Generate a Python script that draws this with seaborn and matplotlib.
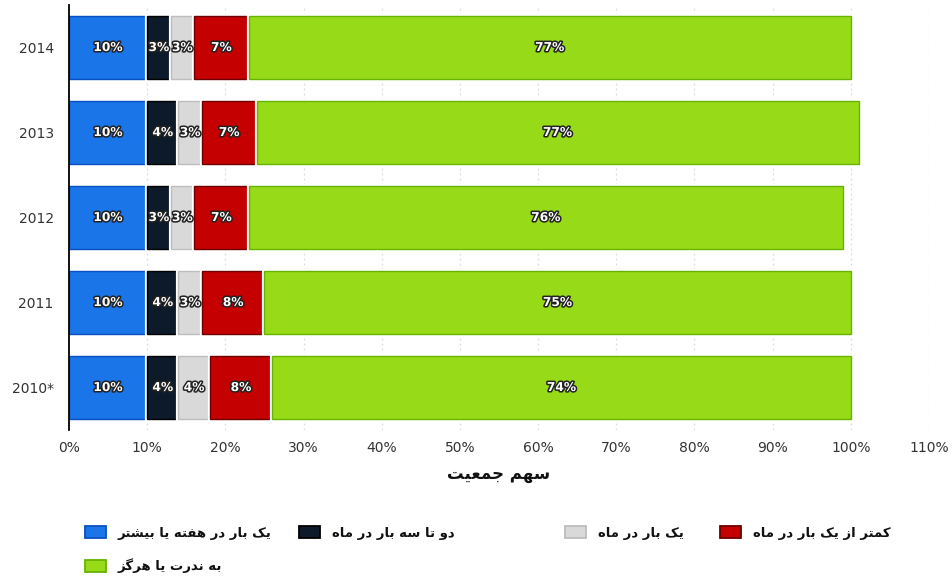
import matplotlib
matplotlib.use("Agg")
import matplotlib.pyplot as plt
import numpy as np
import pandas as pd
import seaborn as sns
from matplotlib import patheffects as pe
from matplotlib.patches import Patch

# ---------------- data ----------------
years = ["2014", "2013", "2012", "2011", "2010*"]
weekly_or_more = [10, 10, 10, 10, 10]
two_three_month = [3, 4, 3, 4, 4]
once_month = [3, 3, 3, 3, 4]
less_than_month = [7, 7, 7, 8, 8]
rarely_never = [77, 77, 76, 75, 74]

series_names = [
    "یک بار در هفته یا بیشتر",
    "دو تا سه بار در ماه",
    "یک بار در ماه",
    "کمتر از یک بار در ماه",
    "به ندرت یا هرگز",
]
x_label = "سهم جمعیت"
x_ticks = list(range(0, 111, 10))

colors = ["#1a75e8", "#0c1a2a", "#d9d9d9", "#c40000", "#97db18"]
edge_colors = ["#0a4fc2", "#000000", "#bdbdbd", "#6e0000", "#66b300"]

# ---------------- simple Arabic/Persian shaping ----------------
FORMS = {
    "ا": ("\uFE8D", "\uFE8E", None, None),
    "ب": ("\uFE8F", "\uFE90", "\uFE91", "\uFE92"),
    "پ": ("\uFB56", "\uFB57", "\uFB58", "\uFB59"),
    "ت": ("\uFE95", "\uFE96", "\uFE97", "\uFE98"),
    "ج": ("\uFE9D", "\uFE9E", "\uFE9F", "\uFEA0"),
    "د": ("\uFEA9", "\uFEAA", None, None),
    "ر": ("\uFEAD", "\uFEAE", None, None),
    "ز": ("\uFEAF", "\uFEB0", None, None),
    "س": ("\uFEB1", "\uFEB2", "\uFEB3", "\uFEB4"),
    "ش": ("\uFEB5", "\uFEB6", "\uFEB7", "\uFEB8"),
    "ع": ("\uFEC9", "\uFECA", "\uFECB", "\uFECC"),
    "ف": ("\uFED1", "\uFED2", "\uFED3", "\uFED4"),
    "ک": ("\uFB8E", "\uFB8F", "\uFB90", "\uFB91"),
    "گ": ("\uFB92", "\uFB93", "\uFB94", "\uFB95"),
    "ل": ("\uFEDD", "\uFEDE", "\uFEDF", "\uFEE0"),
    "م": ("\uFEE1", "\uFEE2", "\uFEE3", "\uFEE4"),
    "ن": ("\uFEE5", "\uFEE6", "\uFEE7", "\uFEE8"),
    "ه": ("\uFEE9", "\uFEEA", "\uFEEB", "\uFEEC"),
    "و": ("\uFEED", "\uFEEE", None, None),
    "ی": ("\uFBFC", "\uFBFD", "\uFBFE", "\uFBFF"),
}


def shape(text):
    chars = list(text)
    out = []
    for i, c in enumerate(chars):
        if c not in FORMS:
            out.append(c)
            continue
        iso, fin, ini, med = FORMS[c]
        prev = chars[i - 1] if i > 0 else None
        nxt = chars[i + 1] if i + 1 < len(chars) else None
        jp = prev in FORMS and FORMS[prev][2] is not None
        jn = nxt in FORMS and ini is not None
        if jp and jn:
            out.append(med)
        elif jp:
            out.append(fin)
        elif jn:
            out.append(ini)
        else:
            out.append(iso)
    return "".join(reversed(out))


# ---------------- figure ----------------
sns.set_theme(style="white")
plt.rcParams["font.family"] = ["DejaVu Sans"]

W, H = 953, 578
fig = plt.figure(figsize=(W / 100, H / 100), dpi=100)
ax = fig.add_axes([69 / W, 1 - 430 / H, (929 - 69) / W, (430 - 5) / H])

df = pd.DataFrame(
    {
        "year": years,
        series_names[0]: weekly_or_more,
        series_names[1]: two_three_month,
        series_names[2]: once_month,
        series_names[3]: less_than_month,
        series_names[4]: rarely_never,
    }
)

ypos = np.arange(len(years))
left = np.zeros(len(years))
for name, col, ecol in zip(series_names, colors, edge_colors):
    vals = df[name].to_numpy(dtype=float)
    bars = ax.barh(
        ypos, vals, left=left, height=0.74, color=col, edgecolor=ecol,
        linewidth=1.0, zorder=3,
    )
    for b in bars:
        b.set_path_effects([pe.Stroke(linewidth=3.0, foreground="white"), pe.Normal()])
    ax.bar_label(
        bars, labels=[f"{int(v)}%" for v in vals], label_type="center",
        color="white", fontsize=8.8, fontweight="bold", zorder=5,
        path_effects=[pe.withStroke(linewidth=2.2, foreground="#222222")],
    )
    left += vals

ax.set_ylim(len(years) - 0.5, -0.5)
ax.set_yticks(ypos)
ax.set_yticklabels(years)
ax.set_xlim(0, 110)
ax.set_xticks(x_ticks)
ax.set_xticklabels([f"{t}%" for t in x_ticks])
ax.tick_params(axis="both", length=0, labelsize=10, labelcolor="#333333")
ax.tick_params(axis="y", pad=11)
ax.tick_params(axis="x", pad=8)

ax.grid(axis="x", color="#dcdcdc", linestyle=(0, (1.5, 2.5)), linewidth=0.9, zorder=0)
ax.grid(axis="y", visible=False)
for s in ["top", "right", "bottom"]:
    ax.spines[s].set_visible(False)
ax.spines["left"].set_color("#000000")
ax.spines["left"].set_linewidth(1.3)
ax.spines["left"].set_zorder(6)

ax.set_xlabel(shape(x_label), fontsize=12, fontweight="bold", color="#111111", labelpad=7)
ax.set_ylabel("")

# ---------------- legend (one item per entry, placed like reference) ----------------
legend_spots = [(85, 533), (299, 533), (565, 533), (720, 533), (85, 566)]
for name, col, ecol, (lx, ly) in zip(series_names, colors, edge_colors, legend_spots):
    h = Patch(facecolor=col, edgecolor=ecol, linewidth=1.3)
    fig.legend(
        handles=[h], labels=[shape(name)], loc="center left",
        bbox_to_anchor=(lx / W, 1 - ly / H), frameon=False, borderpad=0,
        borderaxespad=0, handlelength=1.6, handleheight=1.05, handletextpad=0.9,
        prop={"size": 9.5, "weight": "bold"}, labelcolor="#111111",
    )

fig.savefig("out.png", dpi=100, facecolor="white")
